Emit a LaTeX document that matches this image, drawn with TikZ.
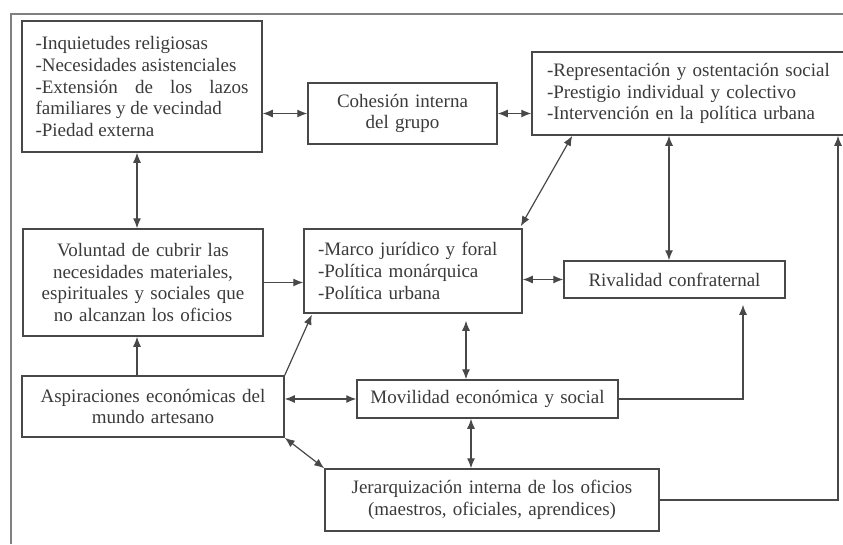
\documentclass[tikz,border=0pt]{standalone}
\usepackage{fontspec}
\setmainfont{Liberation Serif}
\usepackage{xcolor}
\usetikzlibrary{arrows.meta}
\definecolor{lineagris}{HTML}{484848}
\definecolor{textogris}{HTML}{3A3A3A}

\begin{document}
\begin{tikzpicture}[x=1pt,y=-1pt,
	caja/.style={draw=lineagris, line width=1.5pt, text=textogris, inner sep=0pt,
		align=center, font=\fontsize{19}{21.8}\selectfont},
	flecha/.style={draw=lineagris, line width=1.2pt, -{Latex[length=10pt,width=8pt]}},
	dflecha/.style={draw=lineagris, line width=1.2pt,
		{Latex[length=10pt,width=8pt]}-{Latex[length=10pt,width=8pt]}}]
	\useasboundingbox (0,0) rectangle (843,544);
	\clip (0,0) rectangle (843,544);
	%marco exterior
	\draw[draw=gray, line width=1.2pt] (11,544) -- (11,14) -- (843,14);
	%
	%cajas
	\node[caja, align=justify, text width=213pt, minimum width=240pt, minimum height=131pt] (relig) at (142,86.5)
	{-Inquietudes religiosas\\
	-Necesidades asistenciales\\
	-Extensión de los lazos\linebreak familiares y de vecindad\\
	-Piedad externa};
	\node[caja, text width=180pt, minimum width=189pt, minimum height=61pt] (cohesion) at (402.5,113.5)
	{Cohesión interna\\del grupo};
	\node[caja, align=left, text width=300pt, minimum width=330pt, minimum height=83pt] (repres) at (697,93.5)
	{-Representación y ostentación social\\
	-Prestigio individual y colectivo\\
	-Intervención en la política urbana};
	\node[caja, text width=230pt, minimum width=240pt, minimum height=107pt] (volunt) at (143,282.5)
	{Voluntad de cubrir las\\necesidades materiales,\\espirituales y sociales que\\no alcanzan los oficios};
	\node[caja, align=left, text width=190pt, minimum width=218pt, minimum height=84pt] (marco) at (413,271)
	{-Marco jurídico y foral\\
	-Política monárquica\\
	-Política urbana};
	\node[caja, text width=210pt, minimum width=221pt, minimum height=37pt] (rival) at (674.5,279.5)
	{Rivalidad confraternal};
	\node[caja, text width=250pt, minimum width=262pt, minimum height=61pt] (aspir) at (153,406.5)
	{Aspiraciones económicas del\\mundo artesano};
	\node[caja, text width=250pt, minimum width=261pt, minimum height=38pt] (movil) at (487.5,399)
	{Movilidad económica y social};
	\node[caja, text width=320pt, minimum width=334pt, minimum height=62pt] (jerar) at (492,500)
	{Jerarquización interna de los oficios\\(maestros, oficiales, aprendices)};
	%
	%flechas
	\draw[dflecha] (relig.east |- cohesion.west) -- (cohesion.west);
	\draw[dflecha] (cohesion.east) -- (cohesion.east -| repres.west);
	\draw[dflecha] ([xshift=-5pt]relig.south) -- ([xshift=-5pt]relig.south |- volunt.north);
	\draw[flecha] (volunt.east) -- (volunt.east -| marco.west);
	\draw[flecha] ([xshift=-6pt]volunt.south |- aspir.north) -- ([xshift=-6pt]volunt.south);
	\draw[flecha, shorten >=1pt] (aspir.north east) -- ([xshift=9pt]marco.south west);
	\draw[dflecha] (movil.west -| aspir.east) -- (movil.west);
	\draw[dflecha] (aspir.south east) -- (jerar.north west);
	\draw[dflecha, shorten <=7pt] ([xshift=-21.5pt]movil.north |- marco.south) -- ([xshift=-21.5pt]movil.north);
	\draw[dflecha] ([xshift=-16.5pt]movil.south) -- ([xshift=-16.5pt]movil.south |- jerar.north);
	\draw[dflecha] (rival.west -| marco.east) -- (rival.west);
	\draw[dflecha] ([xshift=-2pt,yshift=2pt]marco.north east) -- ([xshift=41pt]repres.south west);
	\draw[dflecha] ([xshift=-5.5pt]rival.north |- repres.south) -- ([xshift=-5.5pt]rival.north);
	\draw[flecha, shorten >=6pt] (movil.east) -| ([xshift=68.5pt]rival.south);
	\draw[flecha] (jerar.east) -| ([xshift=141pt]repres.south);
\end{tikzpicture}
\end{document}
